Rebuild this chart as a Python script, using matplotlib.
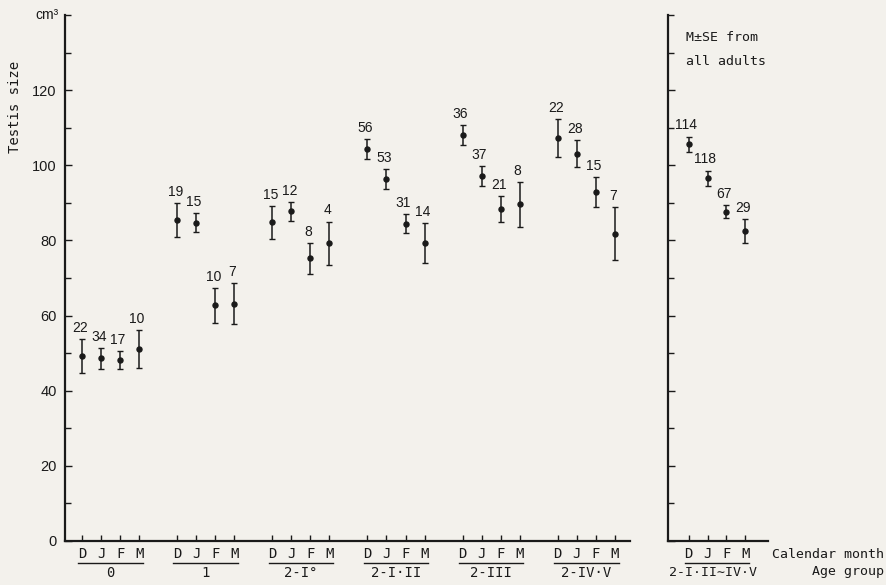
import matplotlib
matplotlib.use("Agg")
import matplotlib.pyplot as plt
import matplotlib.transforms as mtransforms
from matplotlib.ticker import MultipleLocator

# ---------------- data ----------------
months = ["D", "J", "F", "M"]
groups = ["0", "1", "2-I°", "2-I·II", "2-III", "2-IV·V"]

mean_0 = [49.2, 48.6, 48.1, 51.1]
mean_1 = [85.4, 84.7, 62.7, 63.2]
mean_2I0 = [84.8, 87.8, 75.2, 79.2]
mean_2III_ = [104.3, 96.4, 84.5, 79.4]
mean_2III = [108.0, 97.2, 88.4, 89.6]
mean_2IVV = [107.3, 103.1, 92.9, 81.8]

se_0 = [4.55, 2.7, 2.45, 5.05]
se_1 = [4.6, 2.55, 4.6, 5.5]
se_2I0 = [4.35, 2.5, 4.2, 5.8]
se_2III_ = [2.7, 2.6, 2.6, 5.3]
se_2III = [2.6, 2.65, 3.4, 6.0]
se_2IVV = [5.05, 3.6, 3.95, 7.05]

n_0 = [22, 34, 17, 10]
n_1 = [19, 15, 10, 7]
n_2I0 = [15, 12, 8, 4]
n_2III_ = [56, 53, 31, 14]
n_2III = [36, 37, 21, 8]
n_2IVV = [22, 28, 15, 7]

all_label = "2-I·II∼IV·V"
mean_all = [105.6, 96.5, 87.6, 82.5]
se_all = [2.05, 2.1, 1.75, 3.1]
n_all = [114, 118, 67, 29]

means = [mean_0, mean_1, mean_2I0, mean_2III_, mean_2III, mean_2IVV]
ses = [se_0, se_1, se_2I0, se_2III_, se_2III, se_2IVV]
ns = [n_0, n_1, n_2I0, n_2III_, n_2III, n_2IVV]

y_ticks = [0, 20, 40, 60, 80, 100, 120]

# ---------------- style ----------------
BG = "#f3f1ec"
INK = "#1a1a1a"
MONO = ["DejaVu Sans Mono"]
NUMF = ["Liberation Sans", "DejaVu Sans"]

fig = plt.figure(figsize=(8.86, 5.85), dpi=100, facecolor=BG)
axL = fig.add_axes([65 / 886, 44 / 585, 565 / 886, 526 / 585])
axR = fig.add_axes([668 / 886, 44 / 585, 100 / 886, 526 / 585])

for ax in (axL, axR):
    ax.set_facecolor("none")
    ax.set_ylim(0, 140)
    ax.spines["top"].set_visible(False)
    ax.spines["right"].set_visible(False)
    ax.spines["left"].set_linewidth(1.6)
    ax.spines["bottom"].set_linewidth(1.6)
    ax.spines["left"].set_color(INK)
    ax.spines["bottom"].set_color(INK)
    ax.yaxis.set_minor_locator(MultipleLocator(10))
    ax.tick_params(axis="both", which="both", direction="in", color=INK,
                   width=1.0, labelcolor=INK)
    ax.tick_params(axis="y", which="major", length=5)
    ax.tick_params(axis="y", which="minor", length=4)
    ax.tick_params(axis="x", which="major", length=4, pad=4)

axL.set_yticks(y_ticks)
axL.set_yticklabels([str(v) for v in y_ticks], fontfamily=NUMF, fontsize=10.5)
axL.tick_params(axis="y", which="major", pad=6)
axR.set_yticks(y_ticks)
axR.set_yticklabels([])

errkw = dict(fmt="o", color=INK, ms=3.6, elinewidth=1.1, capsize=2.0,
             capthick=1.0, ecolor=INK)

# left panel
xt, xl = [], []
for g, (m, s, n) in enumerate(zip(means, ses, ns)):
    xs = [5 * g + i for i in range(len(months))]
    axL.errorbar(xs, m, yerr=s, **errkw)
    for x, mv, sv, nv in zip(xs, m, s, n):
        axL.annotate(str(nv), (x, mv + sv), xytext=(-1.5, 3),
                     textcoords="offset points", ha="center", va="bottom",
                     fontfamily=NUMF, fontsize=10, color=INK)
    xt += xs
    xl += months
axL.set_xlim(-0.9, 28.8)
axL.set_xticks(xt)
axL.set_xticklabels(xl, fontfamily=MONO, fontsize=10)

transL = mtransforms.blended_transform_factory(axL.transData, axL.transAxes)
for g, name in enumerate(groups):
    x0, x1 = 5 * g - 0.2, 5 * g + 3.2
    axL.plot([x0, x1], [-0.042, -0.042], transform=transL, color=INK,
             lw=1.0, clip_on=False)
    axL.text(5 * g + 1.5, -0.06, name, transform=transL, ha="center",
             va="center", fontfamily=MONO, fontsize=10, color=INK)

# right panel
xr = list(range(len(months)))
axR.errorbar(xr, mean_all, yerr=se_all, **errkw)
for x, mv, sv, nv in zip(xr, mean_all, se_all, n_all):
    axR.annotate(str(nv), (x, mv + sv), xytext=(-2, 3),
                 textcoords="offset points", ha="center", va="bottom",
                 fontfamily=NUMF, fontsize=10, color=INK)
axR.set_xlim(-1.1, 4.2)
axR.set_xticks(xr)
axR.set_xticklabels(months, fontfamily=MONO, fontsize=10)
transR = mtransforms.blended_transform_factory(axR.transData, axR.transAxes)
axR.plot([-0.2, 3.2], [-0.042, -0.042], transform=transR, color=INK, lw=1.0,
         clip_on=False)
axR.text(1.3, -0.06, all_label, transform=transR, ha="center", va="center",
         fontfamily=MONO + ["DejaVu Sans"], fontsize=9.5, color=INK)
fig.text(884 / 886, 1 - 554 / 585, "Calendar month", ha="right",
         va="center", fontfamily=MONO, fontsize=9.5, color=INK)
fig.text(884 / 886, 1 - 572 / 585, "Age group", ha="right",
         va="center", fontfamily=MONO, fontsize=9.5, color=INK)
axR.text(-0.12, 134, "M±SE from", ha="left", va="center",
         fontfamily=MONO, fontsize=9.5, color=INK)
axR.text(-0.12, 127.5, "all adults", ha="left", va="center",
         fontfamily=MONO, fontsize=9.5, color=INK)

# axis labels
axL.text(-0.012, 1.0, "cm³", transform=axL.transAxes, ha="right", va="center",
         fontfamily=NUMF, fontsize=10, color=INK)
fig.text(15 / 886, 1 - 107 / 585, "Testis size", rotation=90, ha="center",
         va="center", fontfamily=MONO, fontsize=10, color=INK)

fig.savefig("out.png", dpi=100, facecolor=BG)
